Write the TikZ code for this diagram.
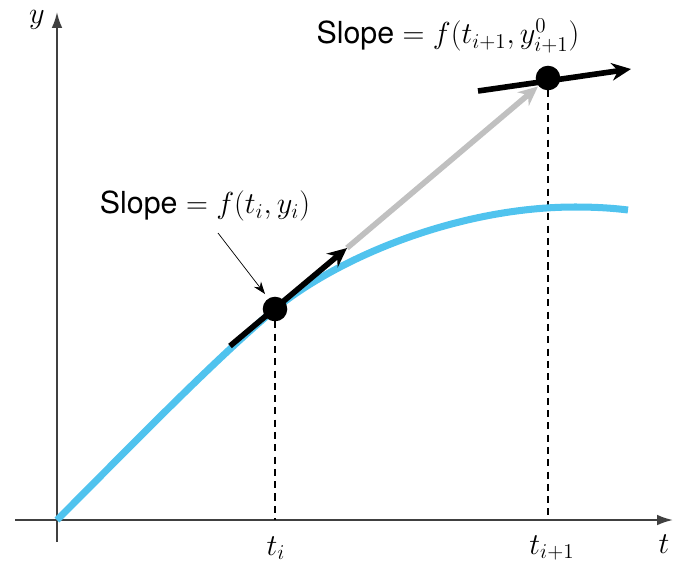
\documentclass[tikz,border=0pt]{standalone}
\usepackage{fontspec}
\setsansfont{TeX Gyre Heros}
\usetikzlibrary{arrows.meta,calc}
\definecolor{curveblue}{RGB}{80,195,238}
\definecolor{predgray}{RGB}{192,192,192}
\tikzset{
  axisline/.style={line width=1.1pt,draw=black!75,-{Latex[length=9pt,width=6pt]}},
  slopeline/.style={line width=3.2pt,-{Stealth[length=11pt,width=10pt]}},
  droplines/.style={line width=0.7pt,dash pattern=on 4pt off 3pt},
  lbl/.style={font=\LARGE}
}
\begin{document}
\begin{tikzpicture}[x=0.02cm,y=-0.02cm]
			\useasboundingbox (0,0) rectangle (683,569);
			\coordinate (O) at (57,520);
			\coordinate (P) at (275,309);
			\coordinate (Q) at (548,78);
			\coordinate (A) at (230,346);
			\coordinate (B) at (347,248);
			\coordinate (C) at (478,91);
			\coordinate (D) at (631,69);
			\coordinate (E) at (628,210);
			\draw [axisline] (15,520)-- (673,520);
			\draw [axisline] (57,542)-- (57,12);
			\draw [droplines] (P)-- (P |- O);
			\draw [droplines] (Q)-- (Q |- O);
			\draw [curveblue,line width=4pt] (O) .. controls (130,447) and (211,363) .. (P) .. controls (340,256) and (460,207) .. (575,207) .. controls (595,207) and (612,208) .. (E);
			\draw [slopeline,predgray] (B)-- ($(Q)!0.05!(B)$);
			\draw [slopeline] (A)-- (B);
			\draw [slopeline] (C)-- (D);
			\draw [thin,-{Stealth[length=7pt,width=5pt]}] (218,233)-- (265,294);
			\fill (P) circle (7pt);
			\fill (Q) circle (7pt);
			\node [lbl] (s1) at (205,206) {\sffamily Slope $= f(t_i, y_i)$};
			\node [lbl] (s2) at (448,36) {\sffamily Slope $= f(t_{i+1}, y^0_{i+1})$};
			\node [lbl] (ti) at (276,548) {$t_i$};
			\node [lbl] (ti1) at (552,548) {$t_{i+1}$};
			\node [lbl] (tt) at (664,544) {$t$};
			\node [lbl] (yy) at (37,20) {$y$};
		\end{tikzpicture}
\end{document}
